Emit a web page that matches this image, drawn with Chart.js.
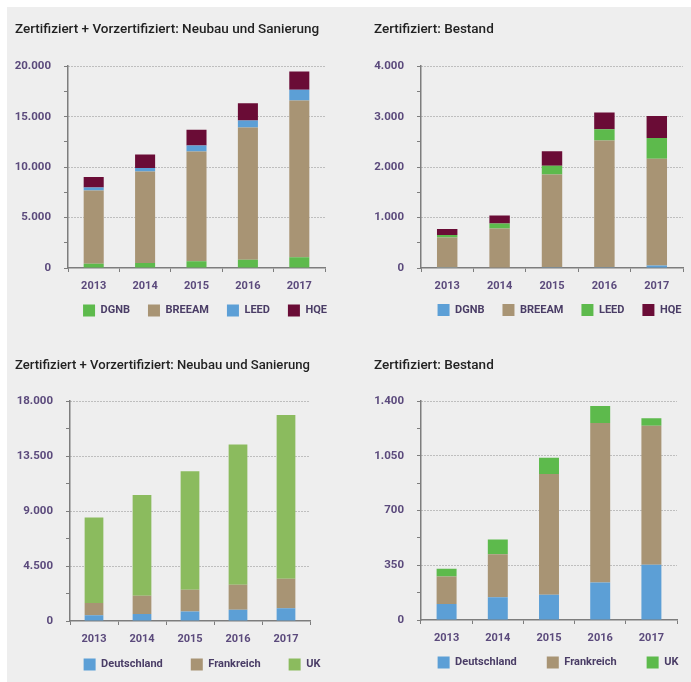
<!DOCTYPE html>
<html>
<head>
<meta charset="utf-8">
<script src="https://cdn.jsdelivr.net/npm/chart.js@4/dist/chart.umd.min.js"></script>
<style>
body { margin:0; background:#fff; width:691px; height:682px; overflow:hidden; position:relative; }
#grau { position:absolute; left:7px; top:7px; width:684px; height:675px; background:#eeeeee; }
.panel { position:absolute; }
</style>
</head>
<body>
<div id="grau"></div>
<div class="panel" style="left:0;top:0;width:345px;height:340px"><canvas id="c1"></canvas></div>
<div class="panel" style="left:345px;top:0;width:346px;height:340px"><canvas id="c2"></canvas></div>
<div class="panel" style="left:0;top:340px;width:345px;height:362px"><canvas id="c3"></canvas></div>
<div class="panel" style="left:345px;top:340px;width:346px;height:362px"><canvas id="c4"></canvas></div>
<script>
// Jahre
var years = ['2013', '2014', '2015', '2016', '2017'];

// oben links: Zertifiziert + Vorzertifiziert (Neubau und Sanierung), nach System
var neuDGNB   = [430, 500, 660, 830, 1060];
var neuBREEAM = [7260, 9070, 10890, 13100, 15540];
var neuLEED   = [300, 330, 600, 690, 1060];
var neuHQE    = [1020, 1350, 1550, 1720, 1810];

// oben rechts: Zertifiziert Bestand, nach System
var bestDGNB   = [5, 10, 15, 15, 50];
var bestBREEAM = [600, 775, 1840, 2510, 2115];
var bestLEED   = [50, 95, 170, 225, 410];
var bestHQE    = [120, 160, 290, 330, 440];

// unten links: Neubau und Sanierung, nach Land
var neuDE = [470, 580, 770, 930, 1040];
var neuFR = [1010, 1480, 1780, 2030, 2420];
var neuUK = [7000, 8260, 9720, 11500, 13420];

// unten rechts: Bestand, nach Land
var bestDE = [102, 145, 162, 240, 353];
var bestFR = [177, 276, 772, 1020, 890];
var bestUK = [49, 94, 104, 110, 48];

// Achsenbeschriftungen
var ticks1 = [0, 5000, 10000, 15000, 20000];
var ticks2 = [0, 1000, 2000, 3000, 4000];
var ticks3 = [0, 4500, 9000, 13500, 18000];
var ticks4 = [0, 350, 700, 1050, 1400];

var GRUEN = '#5dba4c', GRUEN2 = '#8bbb5e', BEIGE = '#a89474', BLAU = '#5c9fd6', WEINROT = '#6a0c36';
var LILA = '#5b4a7c', ACHSE = '#7d7d7d';

function punkt(n) {
  return String(n).replace(/\B(?=(\d{3})+(?!\d))/g, '.');
}

function balken(name, werte, farbe) {
  return { label: name, data: werte, backgroundColor: farbe, borderWidth: 0,
           barPercentage: 0.39, categoryPercentage: 1 };
}

function diagramm(id, titel, sets, yTicks, s) {
  // Legende nachträglich verschieben (Abstand unabhängig vom Innenabstand)
  var verschub = {
    id: 'verschub',
    afterLayout: function(chart) {
      chart.legend.left += s.dx;
      chart.legend.right += s.dx;
      chart.legend.top -= s.dy;
      chart.legend.bottom -= s.dy;
    }
  };
  return new Chart(document.getElementById(id), {
    type: 'bar',
    data: { labels: years, datasets: sets },
    plugins: [verschub],
    options: {
      responsive: true,
      maintainAspectRatio: false,
      animation: false,
      layout: { padding: { left: s.left, right: s.right, top: 0, bottom: s.bottom } },
      plugins: {
        tooltip: { enabled: false },
        title: {
          display: true, text: titel, align: 'start', color: '#222',
          font: { family: 'Roboto', weight: '500', size: 13.5 },
          padding: { top: s.tTop, bottom: s.tBot }
        },
        legend: {
          position: 'bottom', align: 'center',
          labels: {
            boxWidth: 12, boxHeight: 12, padding: s.lp, color: '#4a3d66',
            font: { family: 'Roboto', weight: 'bold', size: 11 }
          }
        }
      },
      scales: {
        x: {
          stacked: true,
          grid: { offset: true, drawOnChartArea: false, tickLength: 4, tickColor: ACHSE },
          border: { color: ACHSE, width: 1.5 },
          ticks: { padding: 8, color: LILA, font: { family: 'Roboto', weight: 'bold', size: 11 } },
          afterFit: function(sc) { sc.height = 28; }
        },
        y: {
          stacked: true,
          min: 0,
          max: yTicks[yTicks.length - 1],
          ticks: {
            stepSize: (yTicks[1] - yTicks[0]) / 2,
            autoSkip: false,
            padding: 13,
            color: LILA,
            font: { family: 'Roboto', weight: 'bold', size: 11.5 },
            callback: function(v) { return yTicks.indexOf(v) >= 0 ? punkt(v) : ''; }
          },
          grid: {
            color: function(c) {
              var v = c.tick ? c.tick.value : 0;
              return (v > 0 && yTicks.indexOf(v) >= 0) ? '#8e8e8e' : 'rgba(0,0,0,0)';
            },
            tickColor: ACHSE, tickLength: 4, lineWidth: 1
          },
          border: { color: ACHSE, width: 1.5, dash: [1, 2] },
          afterFit: function(sc) { sc.width = s.yw; }
        }
      }
    }
  });
}

diagramm('c1', 'Zertifiziert + Vorzertifiziert: Neubau und Sanierung', [
  balken('DGNB', neuDGNB, GRUEN),
  balken('BREEAM', neuBREEAM, BEIGE),
  balken('LEED', neuLEED, BLAU),
  balken('HQE', neuHQE, WEINROT)
], ticks1, { left: 15, right: 20, bottom: 4, yw: 53, lp: 18, dx: 35, dy: 9.5, tTop: 22, tBot: 28 });

diagramm('c2', 'Zertifiziert: Bestand', [
  balken('DGNB', bestDGNB, BLAU),
  balken('BREEAM', bestBREEAM, BEIGE),
  balken('LEED', bestLEED, GRUEN),
  balken('HQE', bestHQE, WEINROT)
], ticks2, { left: 29, right: 8, bottom: 4, yw: 47, lp: 18, dx: 31, dy: 10, tTop: 22, tBot: 28 });

diagramm('c3', 'Zertifiziert + Vorzertifiziert: Neubau und Sanierung', [
  balken('Deutschland', neuDE, BLAU),
  balken('Frankreich', neuFR, BEIGE),
  balken('UK', neuUK, GRUEN2)
], ticks3, { left: 15, right: 35, bottom: 3, yw: 55, lp: 28, dx: 39.5, dy: 18.5, tTop: 17.5, tBot: 27.5 });

diagramm('c4', 'Zertifiziert: Bestand', [
  balken('Deutschland', bestDE, BLAU),
  balken('Frankreich', bestFR, BEIGE),
  balken('UK', bestUK, GRUEN)
], ticks4, { left: 29, right: 14, bottom: 2, yw: 47, lp: 30, dx: 32.5, dy: 21.5, tTop: 17.5, tBot: 27.5 });
</script>
</body>
</html>
